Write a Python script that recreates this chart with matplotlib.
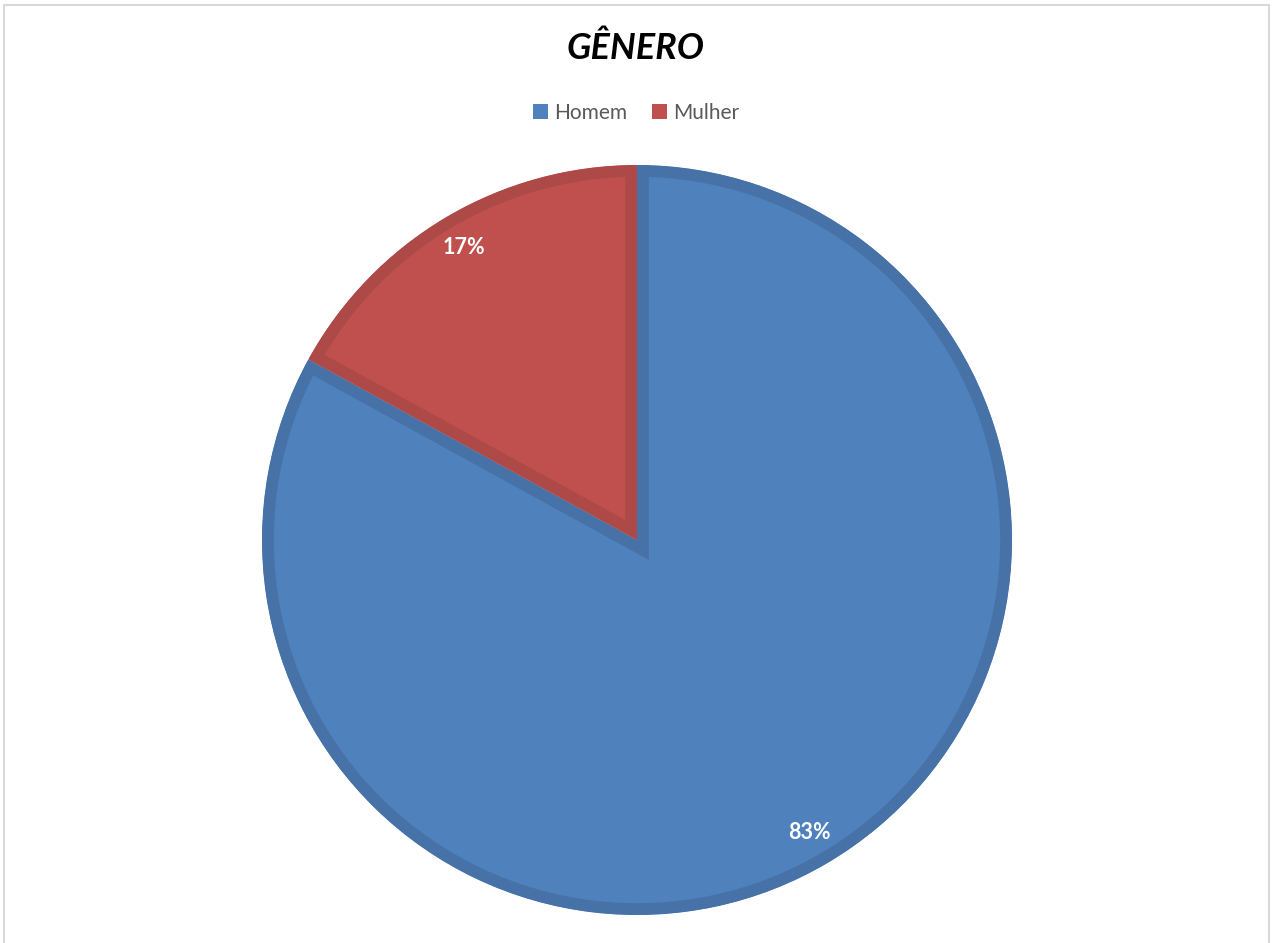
import matplotlib.pyplot as plt
from matplotlib.patches import Patch, Rectangle

LABELS = ["Homem", "Mulher"]
VALUES = [83, 17]
COLORS = ["#4F81BD", "#C0504D"]
EDGES = ["#4672A8", "#AD4A47"]
TITLE = "GÊNERO"


def main():
    plt.rcParams['font.family'] = ['Lato', 'DejaVu Sans']
    fig = plt.figure(figsize=(12.72, 9.43), dpi=100)

    # light frame around the chart area
    fig.patches.append(Rectangle((4 / 1272, -0.01), 1265 / 1272, 1 - 5 / 943 + 0.01,
                                 transform=fig.transFigure, fill=False,
                                 edgecolor="#D9D9D9", lw=1.5))

    ax = fig.add_axes([(637 - 375) / 1272, (943 - 915) / 943, 750 / 1272, 750 / 943])
    wedges, texts, autotexts = ax.pie(
        VALUES, colors=COLORS, startangle=90, counterclock=False,
        autopct="%1.0f%%", pctdistance=0.905, radius=1,
        wedgeprops={"linewidth": 17, "edgecolor": "none"},
        textprops={"color": "white", "fontsize": 15.5, "fontweight": "bold"})
    # border drawn inside each slice, like the original
    for w, ec in zip(wedges, EDGES):
        w.set_edgecolor(ec)
        w.set_clip_on(True)
        w.set_clip_path(w)
    ax.set_xlim(-1, 1)
    ax.set_ylim(-1, 1)
    ax.axis("off")

    fig.text(0.5, 1 - 48 / 943, TITLE, ha="center", va="center",
             fontsize=26, fontweight="bold", fontstyle="italic", color="black")

    handles = [Patch(facecolor=c, edgecolor="none") for c in COLORS]
    fig.legend(handles, LABELS, loc="center", bbox_to_anchor=(0.5, 1 - 113 / 943),
               ncol=2, frameon=False, fontsize=15, labelcolor="#595959",
               handlelength=0.7, handleheight=0.7, handletextpad=0.3,
               columnspacing=1.2)

    fig.savefig("out.png", dpi=100)
    plt.close(fig)


if __name__ == "__main__":
    main()
